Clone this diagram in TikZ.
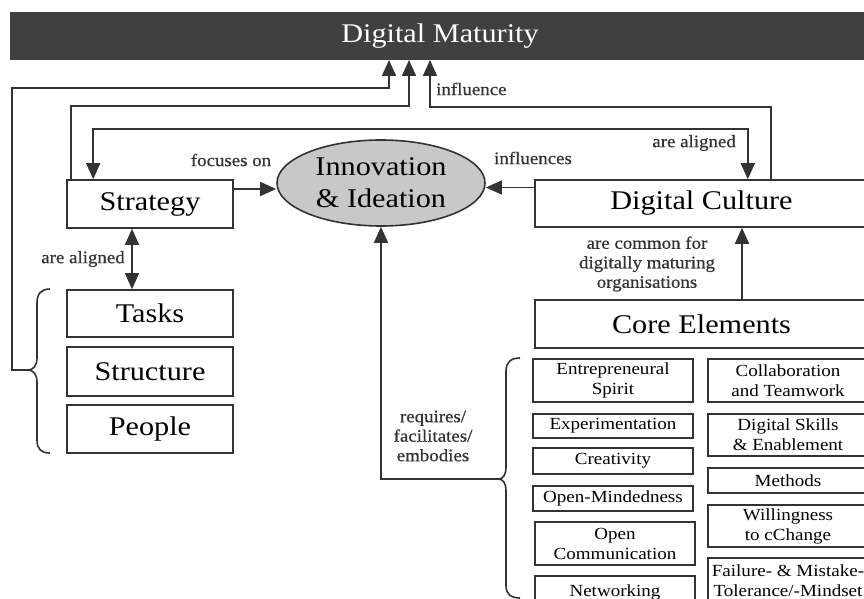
\documentclass[tikz,border=0pt]{standalone}
\usepackage{fontspec}
\setmainfont{Liberation Serif}[FakeStretch=1.12]
\newfontfamily\lblfont{Liberation Serif}[FakeStretch=1.08, FakeBold=0.6]
\usetikzlibrary{arrows.meta,shapes.geometric}
\definecolor{ln}{HTML}{333333}
\definecolor{barc}{HTML}{404040}
\definecolor{ellfill}{HTML}{C8C8C8}
\tikzset{
  box/.style={draw=ln, line width=1.6pt, fill=white, inner sep=0pt, minimum width=166pt, font=\fontsize{27}{30}\selectfont},
  ce/.style={draw=ln, line width=1.4pt, inner sep=0pt, align=center, minimum width=160pt, font=\fontsize{17}{20}\selectfont},
  lbl/.style={align=center, inner sep=0pt, text=ln, font=\lblfont\fontsize{17.5}{19.5}\selectfont},
  arr/.style={draw=ln, line width=1.6pt, -{Triangle[length=16pt,width=14pt]}},
  arrtwo/.style={draw=ln, line width=1.6pt, {Triangle[length=16pt,width=14pt]}-{Triangle[length=16pt,width=14pt]}},
  brace/.style={draw=ln, line width=1.6pt}
}
\begin{document}
\begin{tikzpicture}[x=1pt,y=-1pt]
\useasboundingbox (0,0) rectangle (864,599);
\clip (0,0) rectangle (864,599);

% top bar
\node[fill=barc, minimum width=860pt, minimum height=48pt, inner sep=0pt, text=white, font=\fontsize{27}{30}\selectfont] (dm) at (440,36) {Digital Maturity};
\coordinate (dmA) at (389,60);
\coordinate (dmB) at (409,60);
\coordinate (dmC) at (430,60);

% left boxes
\node[box, minimum height=48pt] (strat) at (150,204) {Strategy};
\node[box, minimum height=47pt] (tasks) at (150,313.5) {Tasks};
\node[box, minimum height=49pt] (struct) at (150,371.5) {Structure};
\node[box, minimum height=48pt] (people) at (150,429) {People};

% ellipse
\node[ellipse, draw=ln, fill=ellfill, line width=1.6pt, minimum width=208pt, minimum height=86pt, inner sep=0pt, align=center, font=\fontsize{27}{32}\selectfont] (ell) at (381,183) {Innovation\\\& Ideation};

% right boxes
\node[box, minimum width=333pt, minimum height=47pt] (dc) at (701.5,203.5) {Digital Culture};
\node[box, minimum width=333pt, minimum height=48pt] (core) at (701.5,324) {Core Elements};

% core elements, left column
\node[ce, minimum height=43pt] (ent) at (613,380.5) {Entrepreneural\\Spirit};
\node[ce, minimum height=24pt] (exper) at (613,426) {Experimentation};
\node[ce, minimum height=26pt] (cre) at (613,461) {Creativity};
\node[ce, minimum height=25pt] (om) at (613,498.5) {Open-Mindedness};
\node[ce, minimum height=43pt] (oc) at (615,543.5) {Open\\Communication};
\node[ce, minimum height=32pt] (net) at (615,592) {Networking};

% core elements, right column
\node[ce, minimum height=43pt] (col) at (788,380.5) {Collaboration\\and Teamwork};
\node[ce, minimum height=42pt] (dsk) at (788,435) {Digital Skills\\\& Enablement};
\node[ce, minimum height=25pt] (meth) at (788,480.5) {Methods};
\node[ce, minimum height=42pt] (will) at (788,526) {Willingness\\to cChange};
\node[ce, minimum height=46pt] (fail) at (788,581) {Failure- \& Mistake-\\Tolerance/-Mindset};

% braces
\coordinate (lb) at (28,370);
\draw[brace] (50,289) .. controls (41,289) and (37,294) .. (37,303) -- (37,358)
  .. controls (37,366) and (33,370) .. (lb)
  .. controls (33,370) and (37,374) .. (37,382) -- (37,440)
  .. controls (37,449) and (41,453) .. (50,453);
\coordinate (rb) at (498,479);
\draw[brace] (520,358) .. controls (511,358) and (506,362) .. (506,371) -- (506,467)
  .. controls (506,475) and (503,479) .. (rb)
  .. controls (503,479) and (506,483) .. (506,491) -- (506,586)
  .. controls (506,594) and (511,598) .. (520,598);

% connectors to Digital Maturity
\coordinate (lcorner) at (12,88);
\draw[arr] (lb) -| (lcorner) -| (dmA);
\coordinate (sc) at (409,106);
\draw[arr] ([xshift=5pt]strat.north west) |- (sc) -- (dmB);
\coordinate (dcc) at (430,107);
\draw[arr] ([xshift=-98pt]dc.north east) |- (dcc) -- (dmC);
\node[lbl, anchor=west] (linfl) at (436,89) {influence};

% Strategy <-> Digital Culture
\coordinate (al) at (400,129);
\draw[arrtwo] ([xshift=27pt]strat.north west) |- (al) -| ([xshift=-121pt]dc.north east);
\node[lbl, anchor=east] (lal1) at (736,143) {are aligned};

% Strategy -> Innovation
\coordinate (s1) at ([yshift=15pt]strat.east);
\draw[arr] (s1) -- (s1 -| ell.west);
\node[lbl] (lfoc) at (231,160) {focuses on};

% Digital Culture -> Innovation
\coordinate (d1) at ([yshift=16pt]dc.west);
\draw[arr] (d1) -- (d1 -| ell.east);
\node[lbl] (linf) at (533,158) {influences};

% Core Elements -> Digital Culture
\draw[arr] ([xshift=40.5pt]core.north) -- ([xshift=40.5pt]dc.south);
\node[lbl] (lcom) at (647,264) {are common for\\digitally maturing\\organisations};

% Core elements -> Innovation
\draw[arr] (rb) -| (ell.south);
\node[lbl] (lreq) at (433,436) {requires/\\facilitates/\\embodies};

% Strategy <-> Tasks
\draw[arrtwo] ([xshift=-18pt]strat.south) -- ([xshift=-18pt]tasks.north);
\node[lbl] (lal2) at (83,259) {are aligned};
\end{tikzpicture}
\end{document}
